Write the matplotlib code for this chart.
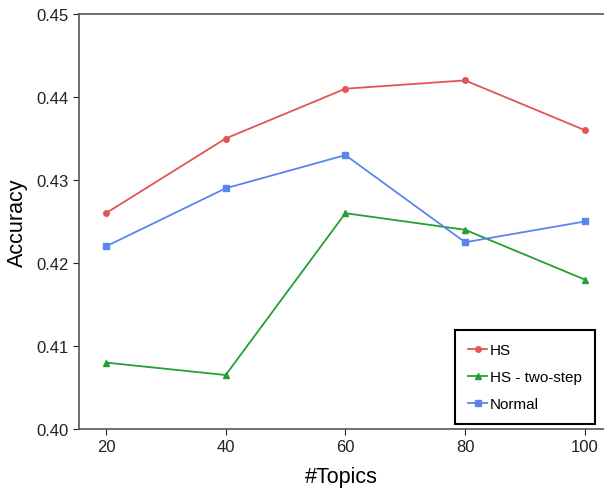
import numpy as np
import matplotlib.pyplot as plt

topics = [20, 40, 60, 80, 100]
hs = [0.426, 0.435, 0.441, 0.442, 0.436]
hs_two_step = [0.408, 0.4065, 0.426, 0.424, 0.418]
normal = [0.422, 0.429, 0.433, 0.4225, 0.425]

plt.rcParams['font.family'] = ['Liberation Sans', 'DejaVu Sans']

fig = plt.figure(figsize=(6.04, 4.89), dpi=100)
ax = fig.add_axes([0.1308, 0.1207, 0.8692, 0.8486])

ax.plot(topics, hs, color='#e35555', marker='o', markersize=4, lw=1.3, label='HS')
ax.plot(topics, hs_two_step, color='#22a033', marker='^', markersize=5, lw=1.3, label='HS - two-step')
ax.plot(topics, normal, color='#5a85ee', marker='s', markersize=4, lw=1.3, label='Normal')

ax.set_xlim(15.5, 103.2)
ax.set_ylim(0.40, 0.45)
ax.set_xticks(topics)
ax.set_yticks([0.40, 0.41, 0.42, 0.43, 0.44, 0.45])
ax.set_yticklabels(['0.40', '0.41', '0.42', '0.43', '0.44', '0.45'])
ax.tick_params(direction='out', labelsize=12, colors='#222222', length=4)
for s in ['left', 'bottom', 'top']:
    ax.spines[s].set_color('#555555')
    ax.spines[s].set_linewidth(1.2)
ax.spines['right'].set_visible(False)

ax.set_xlabel('#Topics', fontsize=15.5, labelpad=8)
ax.set_ylabel('Accuracy', fontsize=15.5, labelpad=6)

leg = ax.legend(loc='lower right', bbox_to_anchor=(0.983, 0.012), fontsize=11,
                fancybox=False, framealpha=1, edgecolor='black',
                handlelength=1.25, handletextpad=0.2, borderpad=0.85,
                borderaxespad=0, labelspacing=0.85)
leg.get_frame().set_linewidth(1.5)

plt.savefig('out.png')
